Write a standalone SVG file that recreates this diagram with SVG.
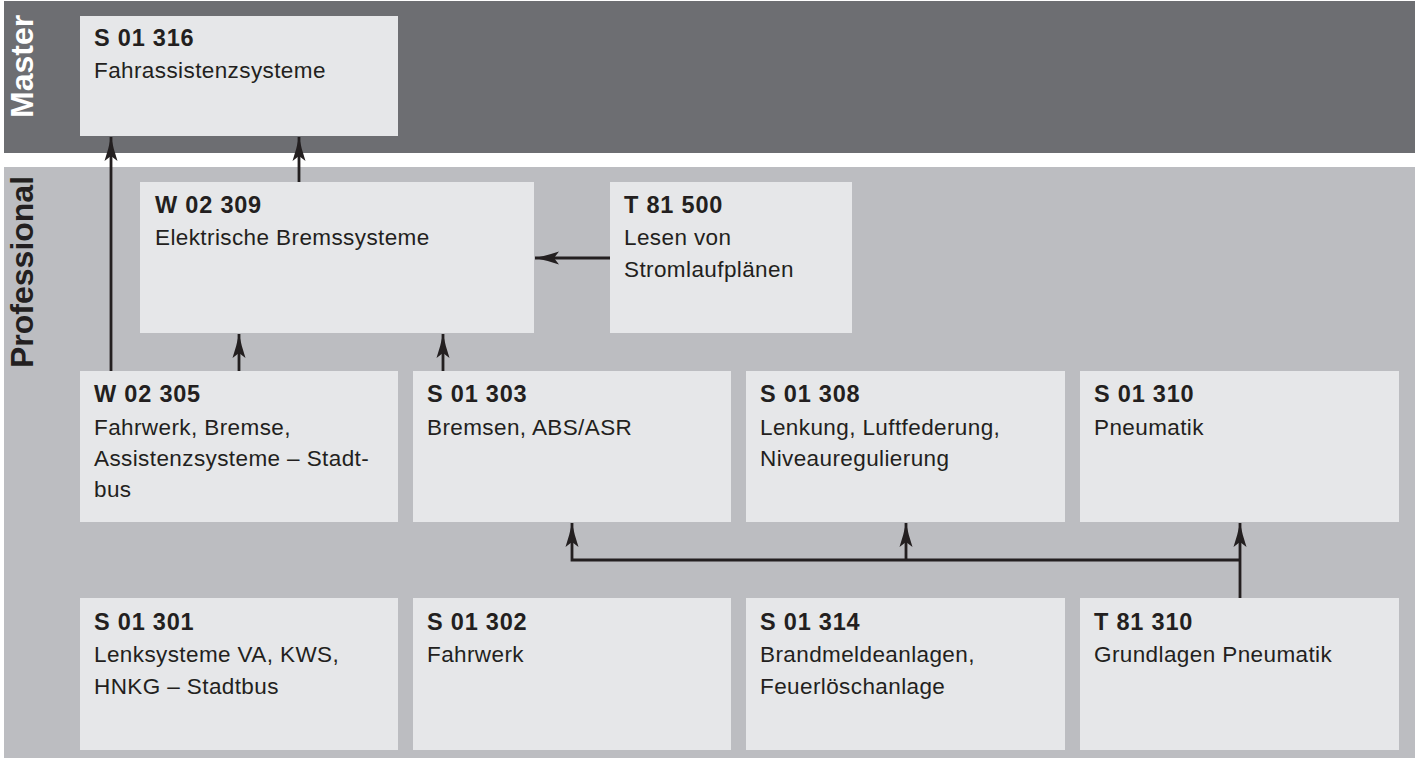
<svg xmlns="http://www.w3.org/2000/svg" width="1415" height="758" viewBox="0 0 1415 758">
<defs>
<style>
.band-m{fill:#6d6e72}
.band-p{fill:#bcbdc1}
.box{fill:#e6e7e9}
.lane{font-family:"Liberation Sans",Arial,sans-serif;font-weight:bold;font-size:32px;fill:#ffffff}
.lane-p{fill:#231f20}
.code{font-family:"Liberation Sans",Arial,sans-serif;font-weight:bold;font-size:23.5px;letter-spacing:0.8px;fill:#231f20}
.desc{font-family:"Liberation Sans",Arial,sans-serif;font-size:22.5px;letter-spacing:0.4px;fill:#231f20}
.conn{stroke:#231f20;stroke-width:2.8;fill:none}
</style>
<marker id="ah" markerUnits="userSpaceOnUse" markerWidth="28" markerHeight="16" viewBox="-26 -8 28 16" refX="0" refY="0" orient="auto">
<path d="M0,0 Q-11,-2.2 -24,-6.5 L-19,0 L-24,6.5 Q-11,2.2 0,0 Z" fill="#231f20"/>
</marker>
</defs>
<rect width="1415" height="758" fill="#ffffff"/>
<g id="lanes">
<rect class="band-m" x="4" y="1" width="1411" height="152"/>
<rect class="band-p" x="4" y="167" width="1411" height="591"/>
<text class="lane" transform="translate(33,118) rotate(-90)">Master</text>
<text class="lane lane-p" transform="translate(33,368) rotate(-90)">Professional</text>
</g>
<g id="n-S01316">
<rect class="box" x="80" y="16" width="318" height="120"/>
<text class="code" x="94" y="46">S 01 316</text>
<text class="desc" x="94" y="78">Fahrassistenzsysteme</text>
</g>
<g id="n-W02309">
<rect class="box" x="140" y="182" width="394" height="151"/>
<text class="code" x="155" y="213">W 02 309</text>
<text class="desc" x="155" y="245">Elektrische Bremssysteme</text>
</g>
<g id="n-T81500">
<rect class="box" x="610" y="182" width="242" height="151"/>
<text class="code" x="624" y="213">T 81 500</text>
<text class="desc" x="624" y="245">Lesen von</text>
<text class="desc" x="624" y="277">Stromlaufplänen</text>
</g>
<g id="n-W02305">
<rect class="box" x="80" y="371" width="318" height="151"/>
<text class="code" x="94" y="402">W 02 305</text>
<text class="desc" x="94" y="435">Fahrwerk, Bremse,</text>
<text class="desc" x="94" y="466">Assistenzsysteme – Stadt-</text>
<text class="desc" x="94" y="497">bus</text>
</g>
<g id="n-S01303">
<rect class="box" x="413" y="371" width="318" height="151"/>
<text class="code" x="427" y="402">S 01 303</text>
<text class="desc" x="427" y="435">Bremsen, ABS/ASR</text>
</g>
<g id="n-S01308">
<rect class="box" x="746" y="371" width="319" height="151"/>
<text class="code" x="760" y="402">S 01 308</text>
<text class="desc" x="760" y="435">Lenkung, Luftfederung,</text>
<text class="desc" x="760" y="466">Niveauregulierung</text>
</g>
<g id="n-S01310">
<rect class="box" x="1080" y="371" width="319" height="151"/>
<text class="code" x="1094" y="402">S 01 310</text>
<text class="desc" x="1094" y="435">Pneumatik</text>
</g>
<g id="n-S01301">
<rect class="box" x="80" y="598" width="318" height="152"/>
<text class="code" x="94" y="630">S 01 301</text>
<text class="desc" x="94" y="662">Lenksysteme VA, KWS,</text>
<text class="desc" x="94" y="694">HNKG – Stadtbus</text>
</g>
<g id="n-S01302">
<rect class="box" x="413" y="598" width="318" height="152"/>
<text class="code" x="427" y="630">S 01 302</text>
<text class="desc" x="427" y="662">Fahrwerk</text>
</g>
<g id="n-S01314">
<rect class="box" x="746" y="598" width="319" height="152"/>
<text class="code" x="760" y="630">S 01 314</text>
<text class="desc" x="760" y="662">Brandmeldeanlagen,</text>
<text class="desc" x="760" y="694">Feuerlöschanlage</text>
</g>
<g id="n-T81310">
<rect class="box" x="1080" y="598" width="319" height="152"/>
<text class="code" x="1094" y="630">T 81 310</text>
<text class="desc" x="1094" y="662">Grundlagen Pneumatik</text>
</g>
<g id="connectors">
<path class="conn" d="M111,371 V137" marker-end="url(#ah)"/>
<path class="conn" d="M299,182 V137" marker-end="url(#ah)"/>
<path class="conn" d="M239,371 V334" marker-end="url(#ah)"/>
<path class="conn" d="M443,371 V334" marker-end="url(#ah)"/>
<path class="conn" d="M610,258 H535" marker-end="url(#ah)"/>
<path class="conn" d="M1240,598 V523" marker-end="url(#ah)"/>
<path class="conn" d="M1240,560 H572 V523" marker-end="url(#ah)"/>
<path class="conn" d="M906,560 V523" marker-end="url(#ah)"/>
</g>
</svg>
